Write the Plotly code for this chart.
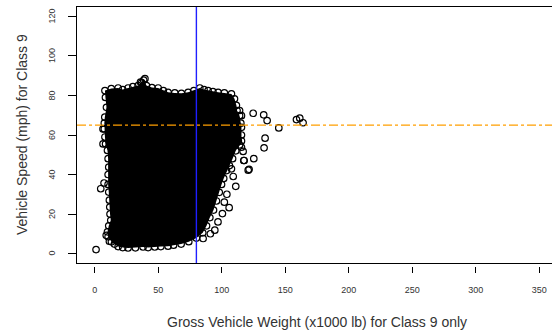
import plotly.graph_objects as go

# Class 9 weigh-in-motion records: gross vehicle weight (x1000 lb) vs speed (mph)
# Outline of the dense core of the cloud (traced clockwise from the upper-left corner)
dense_gvw = [8, 13, 18.4, 22, 26.2, 30, 34.1, 37, 38.5, 40.7, 45, 49.9, 54, 57.7, 63, 68.2,
             73.5, 78, 82.7, 86, 89.2, 93, 97.1, 102, 107.6, 110, 111.5, 112, 114, 115,
             115.5, 115.5, 115.5, 114, 111, 108.5, 106, 103.7, 101.5, 99.8, 98, 95.8, 93.5,
             90.6, 88, 85, 80, 74, 68, 62, 57.7, 52, 47.2, 42, 38, 32, 26.2, 22, 18.4, 15.5,
             13.1, 10.5, 10, 11, 12.6, 12, 11.8, 11.5, 11, 10.5, 10.5, 11, 10.5, 10, 8.5, 8,
             7.5, 7.5, 7.9, 9.2, 8.4]
dense_speed = [82.5, 83.5, 83.8, 83, 83.8, 84.5, 85, 86.5, 87.8, 85, 84, 83.8, 82.5, 81.6, 81.3,
               81.1, 81.6, 82.5, 83.8, 83, 82.5, 82, 81.6, 81.3, 80.8, 78.3, 75, 72.4, 69.8, 66,
               63.9, 60, 57, 55, 52, 48, 44.5, 42, 38, 35, 31, 26.6, 22, 18.2, 14, 10.5, 7.8,
               6.0, 4.8, 4.2, 3.7, 3.5, 3.3, 3.0, 3.3, 2.9, 2.8, 3.0, 3.5, 4.8, 5.9, 8.5, 11,
               14, 16.8, 20, 23.5, 27, 31.1, 35, 40, 43.7, 48, 52.2, 55.5, 59, 63.1, 66, 69,
               74, 79]

# Individual records lying outside the dense core
sparse_gvw = [1, 4.7, 7.3, 6.5, 6.5, 9, 11.5, 113, 115.5, 116.8, 117.3, 120.8, 107.6, 109,
              111, 104, 102, 105.8, 100.5, 97, 94.5, 91, 85.3, 114, 115.5, 124.7, 133, 135.7,
              144.9, 158.8, 161.4, 164, 134.1, 133.3, 125.2, 117.6, 121.5, 39.5, 36]
sparse_speed = [2, 32.8, 35.7, 55.5, 63.1, 9.2, 6.2, 57, 53.8, 51.7, 47.1, 42.2, 42.9, 39,
                34, 30, 26, 23.2, 20.2, 16, 11.8, 10, 7.6, 72.4, 69.8, 71.0, 70.2, 67.3,
                63.6, 67.8, 68.5, 66.2, 58.4, 53.5, 48, 47.1, 42.6, 88.5, 86.8]

x_ticks = [0, 50, 100, 150, 200, 250, 300, 350]
y_ticks = [0, 20, 40, 60, 80, 100, 120]
gvw_limit = 80      # x1000 lb
speed_limit = 65    # mph

x_range = [-14, 360]
y_range = [-4.8, 124.8]

font_family = "Liberation Sans, Arial, sans-serif"
label_color = "#333"

fig = go.Figure()

# solid core of overlapping points
fig.add_trace(go.Scatter(
    x=dense_gvw + dense_gvw[:1], y=dense_speed + dense_speed[:1],
    xaxis="x2", yaxis="y",
    mode="lines", fill="toself", fillcolor="black",
    line=dict(width=0, color="black"), hoverinfo="skip", showlegend=False,
))

# open-circle markers along the edge of the core and for the scattered records
fig.add_trace(go.Scatter(
    x=dense_gvw + sparse_gvw, y=dense_speed + sparse_speed,
    xaxis="x2", yaxis="y",
    mode="markers",
    marker=dict(symbol="circle-open", size=6.5, color="black", line=dict(width=1.2, color="black")),
    showlegend=False,
))

# reference lines
fig.add_shape(type="line", xref="x", yref="y domain", x0=gvw_limit, x1=gvw_limit, y0=0, y1=1,
              line=dict(color="#1f1fff", width=1.4))
fig.add_shape(type="line", xref="x domain", yref="y", x0=0, x1=1, y0=speed_limit, y1=speed_limit,
              line=dict(color="#ff9f00", width=1.2, dash="dashdot"))

plot_h = 335 - 7 - 69
gap = 3 / plot_h

# rotated y tick labels, set left of the tick marks
y_labels = [
    dict(text=str(v), xref="paper", x=0, xshift=-25, yref="y", y=v,
         xanchor="center", yanchor="middle", textangle=-90, showarrow=False,
         font=dict(size=9, family=font_family, color=label_color))
    for v in y_ticks
]

fig.update_layout(
    width=552, height=335,
    margin=dict(l=77, r=0, t=7, b=69),
    plot_bgcolor="white", paper_bgcolor="white",
    font=dict(family=font_family, color=label_color),
    # box: bottom + top lines
    xaxis=dict(
        range=x_range, showgrid=False, zeroline=False,
        showline=True, linecolor="black", linewidth=1.2, mirror=True,
        ticks="", showticklabels=False, anchor="y",
    ),
    # x ticks and labels, set just below the box
    xaxis2=dict(
        range=x_range, overlaying="x", anchor="free", position=0, side="bottom",
        showgrid=False, zeroline=False, showline=False,
        tickmode="array", tickvals=x_ticks, ticktext=[str(v) for v in x_ticks],
        ticks="outside", ticklen=6, tickwidth=1, tickcolor="black",
        tickfont=dict(size=9, family=font_family, color=label_color),
        ticklabelstandoff=9,
    ),
    # left box line and tick marks
    yaxis=dict(
        range=y_range, domain=[gap, 1], showgrid=False, zeroline=False,
        showline=True, linecolor="black", linewidth=1.2, mirror=False,
        tickmode="array", tickvals=y_ticks,
        ticks="outside", ticklen=8, tickwidth=1, tickcolor="black",
        showticklabels=False,
    ),
    annotations=y_labels + [
        dict(text="Gross Vehicle Weight (x1000 lb) for Class 9 only",
             xref="x", x=(x_range[0] + 364) / 2, yref="paper", y=0,
             yshift=-56, xanchor="center", yanchor="middle", showarrow=False,
             font=dict(size=14, family=font_family, color=label_color)),
        dict(text="Vehicle Speed (mph) for Class 9",
             xref="paper", x=0, xshift=-55, yref="y", y=60,
             xanchor="center", yanchor="middle", textangle=-90, showarrow=False,
             font=dict(size=14, family=font_family, color=label_color)),
    ],
)

fig.write_html("out.html")
